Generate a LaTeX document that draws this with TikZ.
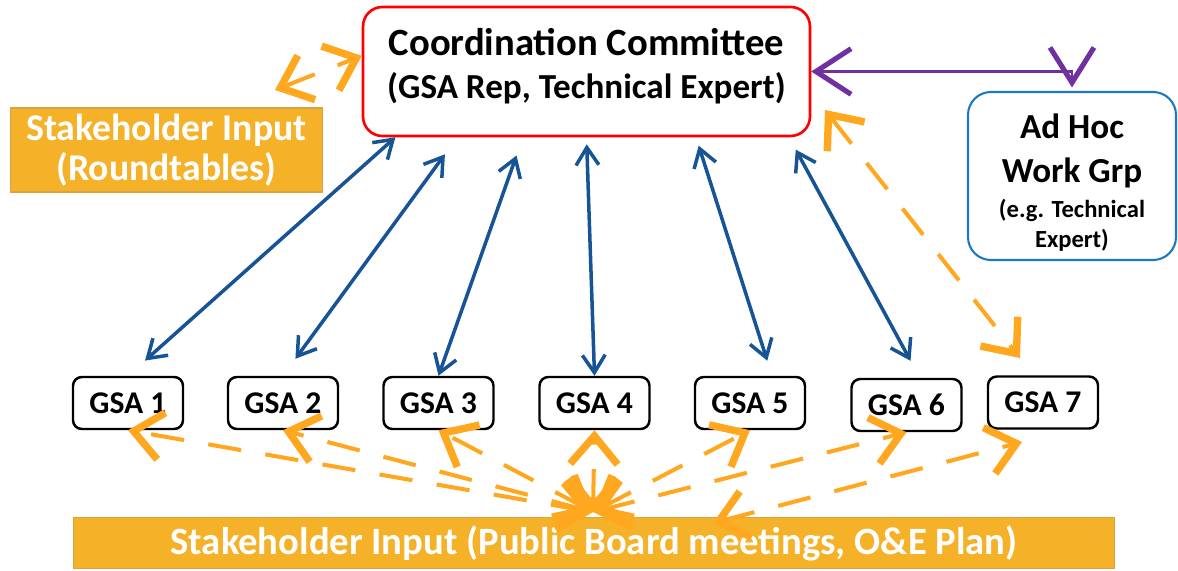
\documentclass[tikz,border=0pt]{standalone}
\usepackage{fontspec}
\setmainfont{Carlito}
\usetikzlibrary{arrows.meta}
\definecolor{ccred}{HTML}{FF0000}
\definecolor{adblue}{HTML}{1F78C4}
\definecolor{linkblue}{HTML}{175496}
\definecolor{linkpurple}{HTML}{7030A0}
\definecolor{inputorange}{HTML}{FFA71F}
\definecolor{inputfill}{HTML}{F5B127}
\definecolor{inputedge}{HTML}{D6A443}

\begin{document}
\begin{tikzpicture}[x=0.02cm, y=0.02cm]
\tikzstyle{every node}+=[inner sep=0pt]
\tikzstyle{gsabox}=[draw=black, line width=1.4pt, rounded corners=5pt, fill=white, minimum width=2.2cm, minimum height=1.04cm, font=\fontsize{18}{20}\selectfont\bfseries]
\tikzstyle{inputbox}=[fill=inputfill, draw=inputedge, line width=0.6pt, text=white, align=center, font=\fontsize{21.5}{23}\selectfont\bfseries]
\tikzstyle{bluelink}=[draw=linkblue, line width=2pt, {Straight Barb[length=10pt,width=13pt]}-{Straight Barb[length=10pt,width=13pt]}]
\tikzstyle{purplelink}=[draw=linkpurple, line width=1.6pt, {Straight Barb[length=20pt,width=26pt,line width=2.9pt]}-{Straight Barb[length=20pt,width=25pt,line width=2.9pt]}]
\tikzstyle{orangelink}=[draw=inputorange, line width=2.3pt, dash pattern=on 19pt off 14pt, {Straight Barb[length=16pt,width=27pt,line width=4.2pt]}-{Straight Barb[length=16pt,width=27pt,line width=4.2pt]}]
\useasboundingbox (0,0) rectangle (1178,-571);
\node [draw=ccred, line width=1.5pt, rounded corners=11pt, fill=white, minimum width=8.94cm, minimum height=2.58cm] (cc) at (586.5,-71.5) {};
\node [align=center, font=\fontsize{22}{24.5}\selectfont\bfseries] (cclabel) at (586.5,-66) {Coordination Committee\\{\fontsize{20}{24.5}\selectfont(GSA Rep, Technical Expert)}};
\node [draw=adblue, line width=1.2pt, rounded corners=13pt, fill=white, minimum width=4.16cm, minimum height=3.36cm] (adhoc) at (1072,-176) {};
\node [align=center, font=\fontsize{20}{25}\selectfont\bfseries] (adhocname) at (1072,-151) {Ad Hoc\\Work Grp};
\node [align=center, font=\fontsize{14}{17}\selectfont\bfseries] (adhocnote) at (1072,-225) {(e.g. Technical\\Expert)};
\node [inputbox, minimum width=6.26cm, minimum height=1.68cm] (rt) at (166.5,-150) {Stakeholder Input\\(Roundtables)};
\node [inputbox, minimum width=20.84cm, minimum height=1.02cm, font=\fontsize{22}{23}\selectfont\bfseries] (pub) at (594,-543) {Stakeholder Input (Public Board meetings, O\&E Plan)};
\foreach \n/\x/\y in {1/128/403, 2/283/403, 3/438.5/403, 4/594.5/403, 5/750/403, 6/906.5/405, 7/1043/402.5}
  \node [gsabox] (gsa\n) at (\x,-\y) {GSA \n};
\coordinate (hub) at (593,-512);
\coordinate (rtend) at (275,-90);
\coordinate (planend) at (713,-523);
\coordinate (gsaseven) at (1022,-442);
\coordinate (ccside) at (825,-110);
\coordinate (gsaseventop) at (1020,-358);
\foreach \a/\b/\s/\e in {199/gsa1.north/0pt/13pt, 207/gsa2.north/12pt/12pt, 226/gsa3.north/11pt/0pt, 270/gsa4.north/4pt/0pt, 329/gsa5.51/5pt/9pt, 342/gsa6.64/8pt/11pt}
  \draw [bluelink, shorten <=\s, shorten >=\e] (cc.\a) -- (\b);
\draw [purplelink, shorten >=2pt] (cc.east) -| (adhoc.north);
\draw [orangelink] (rtend) -- (cc.176);
\draw [orangelink] (ccside) -- (gsaseventop);
\foreach \n in {1,...,6}
  \draw [orangelink] (hub) -- (gsa\n.south);
\draw [orangelink] (planend) -- (gsaseven);
\end{tikzpicture}
\end{document}
